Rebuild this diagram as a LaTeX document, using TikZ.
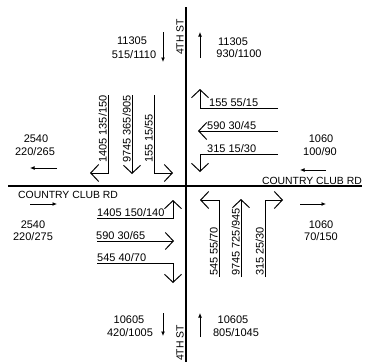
\documentclass[tikz,border=0pt]{standalone}
\usepackage{fontspec}
\setmainfont{Liberation Sans}
\usetikzlibrary{arrows.meta}
\begin{document}
\begin{tikzpicture}[x=1pt,y=-1pt,
  road/.style={line width=1.2pt},
  lane/.style={line width=1pt, -{Straight Barb[length=8pt,width=17pt,line width=1pt]}},
  flow/.style={line width=0.9pt, -{Latex[length=4.5pt,width=4pt]}},
  lbl/.style={font=\fontsize{11}{13}\selectfont, inner sep=0pt},
  vol/.style={lbl, anchor=base},
  vlbl/.style={lbl, rotate=90, anchor=base west},
  hlbl/.style={lbl, anchor=base west},
  rdname/.style={inner sep=0pt, font=\fontsize{10.4}{12}\selectfont},
  ]
\useasboundingbox (0,0) rectangle (366,362);
% roads
\draw[road] (186,7) -- (186,362);
\draw[road] (8,186) -- (362,186);
% road names
\node[rdname, anchor=base east] (ccr) at (362,184) {COUNTRY CLUB RD};
\node[rdname, anchor=base west] (ccl) at (18,198) {COUNTRY CLUB RD};
\node[rdname, rotate=90, anchor=base west] (stn) at (183.5,55) {4TH ST};
\node[rdname, rotate=90, anchor=base west] (sts) at (183.5,361) {4TH ST};
% NW lanes (southbound)
\draw[lane] (108,95) -- (108,173) -- (90,173);
\draw[lane] (132,95) -- (132,174);
\draw[lane] (154,95) -- (154,173) -- (173,173);
\node[vlbl] (nw1) at (106.5,163) {1405 135/150};
\node[vlbl] (nw2) at (130.5,163) {9745 365/905};
\node[vlbl] (nw3) at (152.5,163) {155 15/55};
% NE lanes (westbound)
\draw[lane] (278,108) -- (200,108) -- (200,89);
\draw[lane] (278,131) -- (198,131);
\draw[lane] (278,154) -- (200,154) -- (200,172);
\node[hlbl] (ne1) at (209,106) {155 55/15};
\node[hlbl] (ne2) at (207,129) {590 30/45};
\node[hlbl] (ne3) at (207,152) {315 15/30};
% SW lanes (eastbound)
\draw[lane] (97,218) -- (173,218) -- (173,200);
\draw[lane] (97,241) -- (174,241);
\draw[lane] (97,263) -- (173,263) -- (173,283);
\node[hlbl] (sw1) at (97,216) {1405 150/140};
\node[hlbl] (sw2) at (96,239) {590 30/65};
\node[hlbl] (sw3) at (97,261) {545 40/70};
% SE lanes (northbound)
\draw[lane] (219,277) -- (219,200) -- (200,200);
\draw[lane] (241,277) -- (241,199);
\draw[lane] (265,277) -- (265,200) -- (283,200);
\node[vlbl] (se1) at (217.5,276) {545 55/70};
\node[vlbl] (se2) at (239.5,276) {9745 725/945};
\node[vlbl] (se3) at (263.5,276) {315 25/30};
% volumes
\node[vol] (v1a) at (132,44) {11305};
\node[vol] (v1b) at (134,58) {515/1110};
\node[vol] (v2a) at (233,45) {11305};
\node[vol] (v2b) at (239,57) {930/1100};
\node[vol] (v3a) at (36,142) {2540};
\node[vol] (v3b) at (35,155) {220/265};
\node[vol] (v4a) at (321,142) {1060};
\node[vol] (v4b) at (320,155) {100/90};
\node[vol] (v5a) at (33,228) {2540};
\node[vol] (v5b) at (33,240) {220/275};
\node[vol] (v6a) at (321,228) {1060};
\node[vol] (v6b) at (321,240) {70/150};
\node[vol] (v7a) at (129,323) {10605};
\node[vol] (v7b) at (130,336) {420/1005};
\node[vol] (v8a) at (233,323) {10605};
\node[vol] (v8b) at (236,336) {805/1045};
% direction arrows
\draw[flow] (163,32) -- (163,62);
\draw[flow] (200,58) -- (200,32);
\draw[flow] (57,168) -- (30,168);
\draw[flow] (326,170) -- (300,170);
\draw[flow] (30,204) -- (57,204);
\draw[flow] (300,204) -- (326,204);
\draw[flow] (163,313) -- (163,336);
\draw[flow] (200,337) -- (200,313);
\end{tikzpicture}
\end{document}
